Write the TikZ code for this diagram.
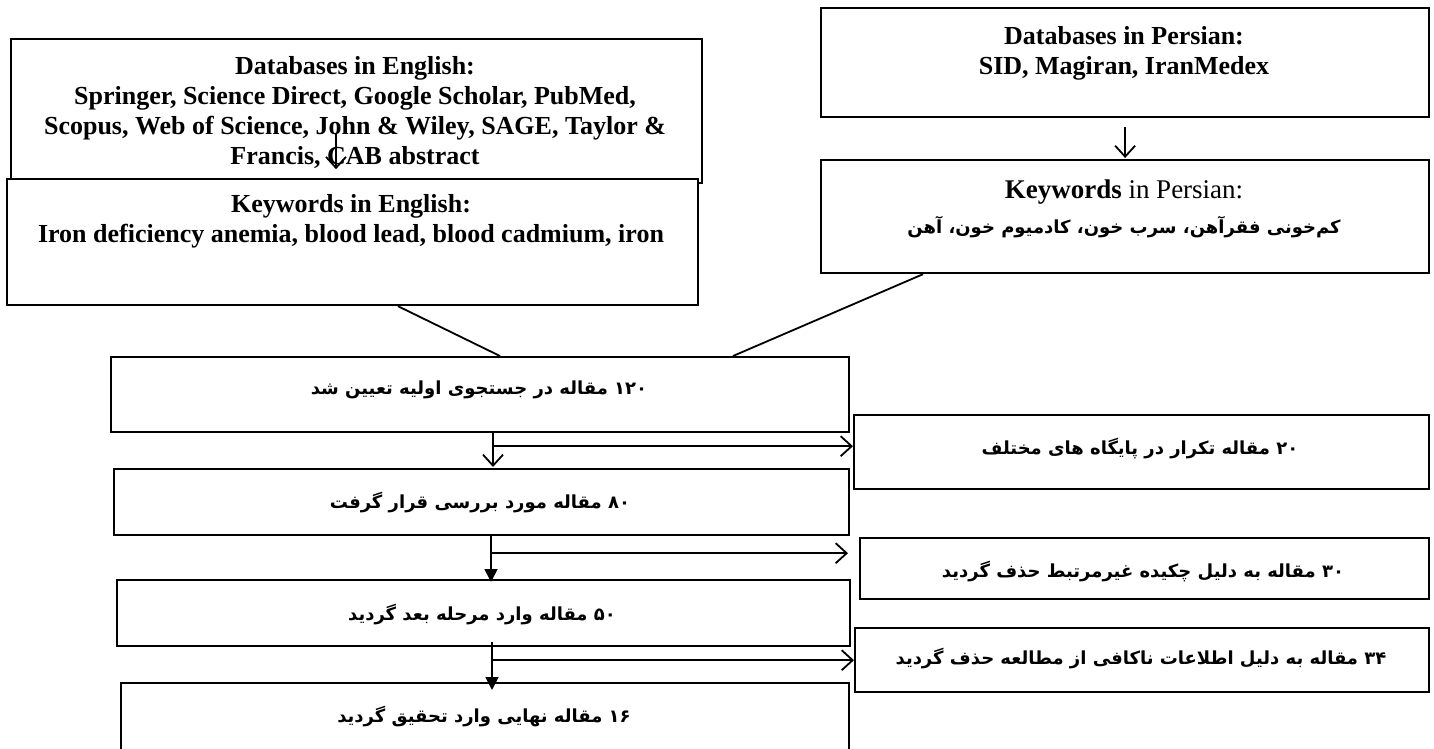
\documentclass[tikz,border=0pt]{standalone}
\usepackage{fontspec}
\setmainfont{Liberation Serif}
\newfontfamily\fafont[Script=Arabic]{DejaVu Sans}
\TeXXeTstate=1
\usetikzlibrary{arrows.meta,calc}
\tikzset{
  box/.style={draw, line width=2.2pt, fill=white, inner sep=0pt, anchor=north west},
  en/.style={font=\fontsize{26}{30}\selectfont\bfseries, align=center, inner sep=0pt},
  fa/.style={font=\fafont\bfseries\fontsize{18}{22}\selectfont, inner sep=0pt},
  conn/.style={line width=1.8pt},
  openarr/.style={conn, -{Straight Barb[length=11pt,width=20pt,line width=1.8pt]}},
  filledarr/.style={conn, -{Triangle[length=13pt,width=13pt]}},
}
\begin{document}
\begin{tikzpicture}[x=1pt,y=-1pt]
\useasboundingbox (0,0) rectangle (1434,749);
\clip (0,0) rectangle (1434,749);
% boxes
\node[box, minimum width=691pt, minimum height=144pt] (dbEn) at (10,38) {};
\node[box, minimum width=691pt, minimum height=126pt] (kwEn) at (6,178) {};
\node[box, minimum width=608pt, minimum height=109pt] (dbFa) at (820,7) {};
\node[box, minimum width=608pt, minimum height=113pt] (kwFa) at (820,159) {};
\node[box, minimum width=738pt, minimum height=75pt] (n120) at (110,356) {};
\node[box, minimum width=575pt, minimum height=74pt] (n20) at (853,414) {};
\node[box, minimum width=735pt, minimum height=66pt] (n80) at (113,468) {};
\node[box, minimum width=569pt, minimum height=61pt] (n30) at (859,537) {};
\node[box, minimum width=733pt, minimum height=66pt] (n50) at (116,579) {};
\node[box, minimum width=574pt, minimum height=64pt] (n34) at (854,627) {};
\node[box, minimum width=728pt, minimum height=90pt] (n16) at (120,682) {};
% texts
\node[en] (tdbEn) at (355,112) {Databases in English:\\Springer, Science Direct, Google Scholar, PubMed,\\Scopus, Web of Science, John \& Wiley, SAGE, Taylor \&\\Francis, CAB abstract};
\node[en] (tkwEn) at (351,221) {Keywords in English:\\Iron deficiency anemia, blood lead, blood cadmium, iron};
\node[en] (tdbFa) at (1124,53) {Databases in Persian:\\SID, Magiran, IranMedex};
\node[font=\fontsize{27}{30}\selectfont, inner sep=0pt] (tkwFa1) at (1124,192) {\textbf{Keywords} in Persian:};
\node[fa] (tkwFa2) at (1124,227) {\beginR کم‌خونی فقرآهن، سرب خون، کادمیوم خون، آهن\endR};
\node[fa] (t120) at (479,390) {\beginR ۱۲۰ مقاله در جستجوی اولیه تعیین شد\endR};
\node[fa] (t20) at (1140,449) {\beginR ۲۰ مقاله تکرار در پایگاه های مختلف\endR};
\node[fa] (t80) at (480,503) {\beginR ۸۰ مقاله مورد بررسی قرار گرفت\endR};
\node[fa] (t30) at (1143,572) {\beginR ۳۰ مقاله به دلیل چکیده غیرمرتبط حذف گردید\endR};
\node[fa] (t50) at (482,615) {\beginR ۵۰ مقاله وارد مرحله بعد گردید\endR};
\node[fa] (t34) at (1141,659) {\beginR ۳۴ مقاله به دلیل اطلاعات ناکافی از مطالعه حذف گردید\endR};
\node[fa] (t16) at (484,717) {\beginR ۱۶ مقاله نهایی وارد تحقیق گردید\endR};
% connectors
\draw[openarr] ($(dbEn.south west)+(326,-50)$) -- ($(dbEn.south west)+(326,-15)$);
\draw[openarr] ($(dbFa.south)+(0,9)$) -- ($(kwFa.north)+(0,-1)$);
\draw[conn] ($(kwEn.south west)+(392,0)$) -- ($(n120.north west)+(390,0)$);
\draw[conn] ($(kwFa.south west)+(103,0)$) -- ($(n120.north west)+(623,0)$);
\draw[openarr] ($(n120.south west)+(383,0)$) -- ($(n80.north west)+(380,-1)$);
\coordinate (b1) at ($(n120.south west)+(383,13)$);
\draw[openarr] (b1) -- (b1 -| n20.west);
\draw[filledarr] ($(n80.south west)+(378,0)$) -- ($(n50.north west)+(375,3)$);
\coordinate (b2) at ($(n80.south west)+(378,17)$);
\draw[openarr] (b2) -- ($(b2 -| n30.west)+(-11,0)$);
\draw[filledarr] ($(n50.south west)+(376,-5)$) -- ($(n16.north west)+(372,8)$);
\coordinate (b3) at ($(n50.south west)+(376,13)$);
\draw[openarr] (b3) -- (b3 -| n34.west);
\end{tikzpicture}
\end{document}
